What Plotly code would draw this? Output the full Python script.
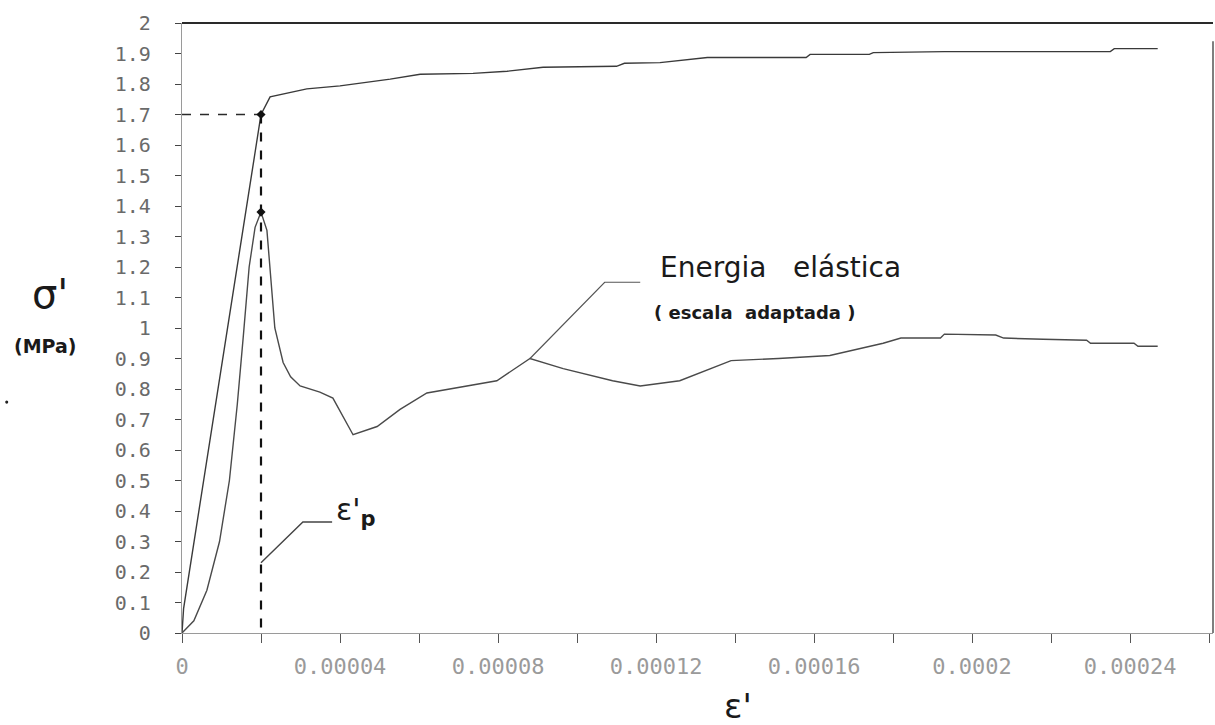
import plotly.graph_objects as go

# ---- data ----
stress_x = [0, 0.0000004, 0.00002, 0.0000223, 0.0000316, 0.00004, 0.0000527, 0.0000603,
            0.0000737, 0.0000823, 0.0000914, 0.00011, 0.000112, 0.000121, 0.000133,
            0.000158, 0.000159, 0.000174, 0.000175, 0.000193, 0.000235, 0.000236, 0.000247]
stress_y = [0, 0.08, 1.70, 1.758, 1.784, 1.794, 1.816, 1.832,
            1.835, 1.842, 1.855, 1.858, 1.868, 1.870, 1.887,
            1.887, 1.897, 1.897, 1.903, 1.906, 1.906, 1.916, 1.916]

energy_x = [0, 0.000003, 0.0000063, 0.0000095, 0.000012, 0.000014, 0.0000155, 0.000017,
            0.0000185, 0.00002,
            0.0000215, 0.0000235, 0.0000256, 0.0000275, 0.0000299, 0.0000349, 0.0000382,
            0.0000433, 0.0000494, 0.0000552, 0.000062, 0.000072, 0.0000797, 0.0000881,
            0.0000965, 0.000109, 0.000116, 0.000126, 0.000139, 0.000151, 0.000164, 0.0001775,
            0.000182, 0.000192, 0.000193, 0.000206, 0.000208, 0.000218, 0.000229,
            0.00023, 0.000241, 0.000242, 0.000247]
energy_y = [0, 0.04, 0.14, 0.30, 0.50, 0.75, 0.97, 1.20,
            1.33, 1.38,
            1.32, 1.00, 0.887, 0.84, 0.81, 0.79, 0.77,
            0.65, 0.677, 0.733, 0.787, 0.81, 0.827, 0.90,
            0.867, 0.827, 0.81, 0.827, 0.893, 0.90, 0.91, 0.95,
            0.967, 0.967, 0.98, 0.977, 0.967, 0.963, 0.96,
            0.95, 0.95, 0.94, 0.94]

peak_strain = 0.00002
peak_stress = 1.70
peak_energy = 1.38

energy_leader_x = [0.0000881, 0.000107, 0.000116]
energy_leader_y = [0.90, 1.15, 1.15]
ep_leader_x = [0.00002, 0.0000306, 0.000038]
ep_leader_y = [0.23, 0.364, 0.364]

x_tick_vals = [0, 0.00004, 0.00008, 0.00012, 0.00016, 0.0002, 0.00024]
x_tick_text = ["0", "0.00004", "0.00008", "0.00012", "0.00016", "0.0002", "0.00024"]
y_tick_vals = [round(i * 0.1, 1) for i in range(21)]
y_tick_text = ["0", "0.1", "0.2", "0.3", "0.4", "0.5", "0.6", "0.7", "0.8", "0.9", "1",
               "1.1", "1.2", "1.3", "1.4", "1.5", "1.6", "1.7", "1.8", "1.9", "2"]

X_MAX = 0.000261
INK = "#2a2a2a"

fig = go.Figure()

fig.add_trace(go.Scatter(x=stress_x, y=stress_y, mode="lines",
                         line=dict(color="#3a3a3a", width=1.4), hoverinfo="skip"))
fig.add_trace(go.Scatter(x=energy_x, y=energy_y, mode="lines",
                         line=dict(color="#4a4a4a", width=1.4), hoverinfo="skip"))
fig.add_trace(go.Scatter(x=[0, peak_strain], y=[peak_stress, peak_stress], mode="lines",
                         line=dict(color=INK, width=1.4, dash="dash"), hoverinfo="skip"))
fig.add_trace(go.Scatter(x=[peak_strain, peak_strain], y=[peak_stress, 0], mode="lines",
                         line=dict(color="#111", width=2.2, dash="dash"), hoverinfo="skip"))
fig.add_trace(go.Scatter(x=[peak_strain, peak_strain], y=[peak_stress, peak_energy],
                         mode="markers", marker=dict(color="#111", size=7, symbol="diamond"),
                         hoverinfo="skip"))
fig.add_trace(go.Scatter(x=energy_leader_x, y=energy_leader_y, mode="lines",
                         line=dict(color="#555", width=1.2), hoverinfo="skip"))
fig.add_trace(go.Scatter(x=ep_leader_x, y=ep_leader_y, mode="lines",
                         line=dict(color="#444", width=1.4), hoverinfo="skip"))

# frame lines (top and right)
fig.add_shape(type="line", xref="paper", yref="paper", x0=0, x1=1, y0=1, y1=1,
              line=dict(color=INK, width=1.8))
fig.add_shape(type="line", xref="paper", yref="paper", x0=1, x1=1, y0=0, y1=0.97,
              line=dict(color="#555", width=1.5))
# stray dot on the scan
fig.add_shape(type="circle", xref="paper", yref="paper", x0=-0.1715, x1=-0.1685,
              y0=0.376, y1=0.381, fillcolor="#222", line=dict(width=0))

ann_font = "DejaVu Sans, sans-serif"
tick_font = "DejaVu Sans Mono, Liberation Mono, monospace"
fig.add_annotation(x=0.0001205, y=1.20, xref="x", yref="y", text="Energia   elástica",
                   showarrow=False, xanchor="left", yanchor="middle",
                   font=dict(family=ann_font, size=28, color="#1a1a1a"))
fig.add_annotation(x=0.000119, y=1.05, xref="x", yref="y", text="<b>( escala  adaptada )</b>",
                   showarrow=False, xanchor="left", yanchor="middle",
                   font=dict(family=ann_font, size=18, color="#1a1a1a"))
fig.add_annotation(x=0.0000385, y=0.40, xref="x", yref="y",
                   text="ε'<sub><b>p</b></sub>", showarrow=False, xanchor="left", yanchor="middle",
                   font=dict(family=ann_font, size=30, color="#1a1a1a"))

# axis titles
fig.add_annotation(x=-0.128, y=0.556, xref="paper", yref="paper", text="σ'",
                   showarrow=False, xanchor="center", yanchor="middle",
                   font=dict(family=ann_font, size=40, color="#1a1a1a"))
fig.add_annotation(x=-0.132, y=0.470, xref="paper", yref="paper", text="<b>(MPa)</b>",
                   showarrow=False, xanchor="center", yanchor="middle",
                   font=dict(family=ann_font, size=19, color="#1a1a1a"))
fig.add_annotation(x=0.539, y=-0.12, xref="paper", yref="paper", text="ε'",
                   showarrow=False, xanchor="center", yanchor="middle",
                   font=dict(family=ann_font, size=34, color="#1a1a1a"))

fig.update_layout(
    width=1215, height=725,
    margin=dict(l=182, r=2, t=23, b=92),
    paper_bgcolor="white", plot_bgcolor="white",
    showlegend=False,
    xaxis=dict(range=[0, X_MAX], tickmode="array", tickvals=x_tick_vals, ticktext=x_tick_text,
               showgrid=False, zeroline=False, showline=True, linecolor="#9a9a9a", linewidth=1.2,
               ticks="outside", ticklen=9, tickcolor="#555", tickwidth=1,
               ticklabelstandoff=4,
               minor=dict(tickmode="linear", tick0=0, dtick=0.00002, ticks="outside",
                          ticklen=9, tickcolor="#555", tickwidth=1, showgrid=False),
               tickfont=dict(family=tick_font, size=22, color="#9a9a9a")),
    yaxis=dict(range=[0, 2], tickmode="array", tickvals=y_tick_vals, ticktext=y_tick_text,
               showgrid=False, zeroline=False, showline=True, linecolor="#9a9a9a", linewidth=1.2,
               ticks="outside", ticklen=6, tickcolor="#444", tickwidth=1.2,
               ticklabelstandoff=20,
               tickfont=dict(family=tick_font, size=20, color="#6a6a6a")),
)

fig.write_html("out.html")
